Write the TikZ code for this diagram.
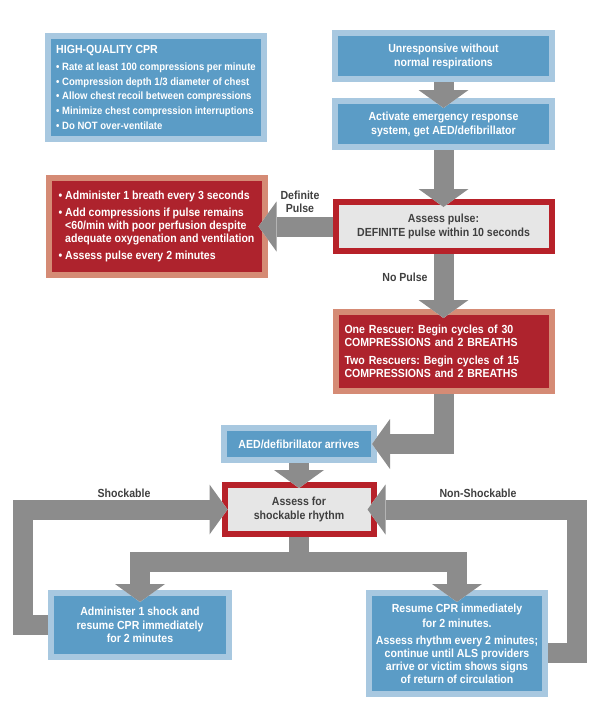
\documentclass[tikz,border=0pt]{standalone}
\usepackage{fontspec}
\setmainfont{Liberation Sans}[FakeStretch=0.9]
\usetikzlibrary{positioning,arrows.meta}
\definecolor{cprblue}{HTML}{5B9CC6}
\definecolor{cprblueedge}{HTML}{A8C8E0}
\definecolor{cprred}{HTML}{AE232D}
\definecolor{cprsalmon}{HTML}{D58B75}
\definecolor{cprborder}{HTML}{B72129}
\definecolor{cprgrayfill}{HTML}{E6E6E6}
\definecolor{cprarrow}{HTML}{8C8C8C}
\definecolor{cprtext}{HTML}{404040}
\frenchspacing

\begin{document}
\begin{tikzpicture}[x=1pt, y=-1pt,
  box/.style={line width=6pt, outer sep=3pt, inner sep=0pt, align=center, font=\fontsize{11.75}{14}\selectfont\bfseries},
  bluebox/.style={box, draw=cprblueedge, fill=cprblue, text=white},
  redbox/.style={box, draw=cprsalmon, fill=cprred, text=white},
  checkbox/.style={box, draw=cprborder, fill=cprgrayfill, text=cprtext},
  flow/.style={draw=cprarrow, line width=20pt, -{Triangle[length=18pt, width=50pt, line width=0pt]},
    preaction={draw=white, line width=20pt, -{Triangle[length=21pt, width=57pt, line width=0pt]}}},
  lbl/.style={text=cprtext, align=center, font=\fontsize{11.75}{12.5}\selectfont\bfseries}
]
\useasboundingbox (0,0) rectangle (600,717);

\node[bluebox, minimum width=216pt, minimum height=103pt, align=left, font=\fontsize{10.6}{14.7}\selectfont\bfseries] (quality) at (156,87.5)
  {{\fontsize{11.75}{14}\selectfont HIGH-QUALITY CPR}\\[2pt]
   • Rate at least 100 compressions per minute\\
   • Compression depth 1/3 diameter of chest\\
   • Allow chest recoil between compressions\\
   • Minimize chest compression interruptions\\
   • Do NOT over-ventilate};

\node[bluebox, minimum width=217pt, minimum height=46pt] (unresp) at (443.5,56) {Unresponsive without\\normal respirations};
\node[bluebox, minimum width=217pt, minimum height=46pt, below=16pt of unresp] (activate) {Activate emergency response\\system, get AED/defibrillator};
\node[checkbox, minimum width=216pt, minimum height=49pt, below=49pt of activate] (pulse) {Assess pulse:\\DEFINITE pulse within 10 seconds};
\node[redbox, minimum width=216pt, minimum height=79pt, text width=198pt, inner xsep=9pt, align=left, font=\fontsize{11.75}{13}\selectfont\bfseries, below=55pt of pulse] (rescue)
  {One Rescuer: Begin cycles of 30\\COMPRESSIONS and 2 BREATHS\\[5pt]
   Two Rescuers: Begin cycles of 15\\COMPRESSIONS and 2 BREATHS};
\node[redbox, minimum width=216pt, minimum height=97pt, align=left, font=\fontsize{11.75}{13}\selectfont\bfseries, left=65pt of pulse] (breath)
  {• Administer 1 breath every 3 seconds\\[4pt]
   • Add compressions if pulse remains\\
   \phantom{• }<60/min with poor perfusion despite\\
   \phantom{• }adequate oxygenation and ventilation\\[4pt]
   • Assess pulse every 2 minutes};

\node[bluebox, minimum width=150pt, minimum height=32pt] (aed) at (299,444) {AED/defibrillator arrives};
\node[checkbox, minimum width=149pt, minimum height=49pt, below=19pt of aed] (rhythm) {Assess for\\shockable rhythm};
\node[bluebox, minimum width=178pt, minimum height=64pt, font=\fontsize{11.75}{13.5}\selectfont\bfseries] (shock) at (140,625)
  {Administer 1 shock and\\resume CPR immediately\\for 2 minutes};
\node[bluebox, minimum width=176pt, minimum height=101pt, font=\fontsize{11.75}{13}\selectfont\bfseries] (resume) at (457,643.5)
  {Resume CPR immediately\\[2pt]for 2 minutes.\\[4pt]Assess rhythm every 2 minutes;\\continue until ALS providers\\arrive or victim shows signs\\of return of circulation};

\node[lbl] (defpulse) at (300,202) {Definite\\Pulse};
\node[lbl] (nopulse) at (405,277) {No Pulse};
\node[lbl] (shockable) at (124,493) {Shockable};
\node[lbl] (nonshock) at (478,493) {Non-Shockable};

\coordinate (split) at ([yshift=-25pt]rhythm.south);
\coordinate (leftrail) at (23,511);
\coordinate (rightrail) at (576.5,511);

\draw[flow] (unresp.south) -- ([yshift=-10pt]activate.north);
\draw[flow] (activate.south) -- ([yshift=-8pt]pulse.north);
\draw[flow] (pulse.west) -- ([xshift=-9pt]breath.east);
\draw[flow] (pulse.south) -- ([yshift=-9pt]rescue.north);
\draw[flow] (rescue.south) |- ([xshift=-5pt]aed.east);
\draw[flow] (aed.south) -- ([yshift=-6pt]rhythm.north);
\draw[flow] (rhythm.south) -- (split) -| ([yshift=-12pt]shock.north);
\draw[flow] (split) -| ([yshift=-12pt]resume.north);
\draw[flow] (shock.west) -| (leftrail |- rhythm.west) -- ([xshift=6pt]rhythm.west);
\draw[flow] ([yshift=-9pt]resume.east) -| (rightrail |- rhythm.east) -- ([xshift=-9pt]rhythm.east);
\end{tikzpicture}
\end{document}
